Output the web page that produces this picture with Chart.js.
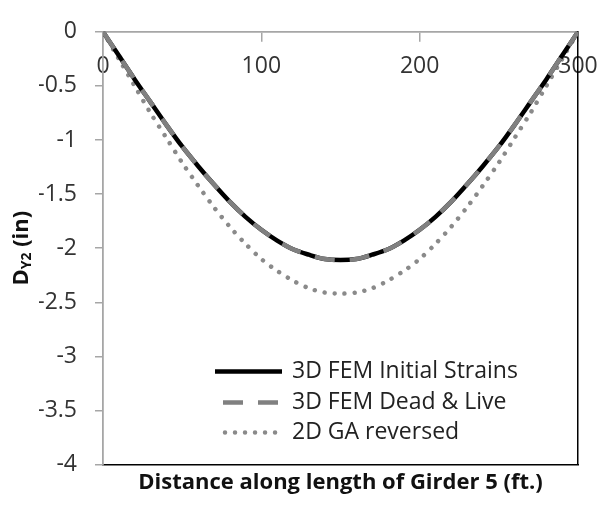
<!DOCTYPE html>
<html><head><meta charset="utf-8">
<script src="https://cdn.jsdelivr.net/npm/chart.js@4"></script>
<style>html,body{margin:0;padding:0;background:#fff}</style>
</head><body>
<canvas id="c" width="602" height="505"></canvas>
<script>
const distances = [0,10,20,30,40,50,60,70,80,90,100,110,120,130,140,150,160,170,180,190,200,210,220,230,240,250,260,270,280,290,300];
const femInitialStrains = [0,-0.22,-0.44,-0.65,-0.86,-1.06,-1.24,-1.41,-1.57,-1.71,-1.83,-1.93,-2.01,-2.06,-2.10,-2.11,-2.10,-2.06,-2.01,-1.93,-1.83,-1.71,-1.57,-1.41,-1.24,-1.06,-0.86,-0.65,-0.44,-0.22,0];
const femDeadLive = [0,-0.22,-0.44,-0.65,-0.86,-1.06,-1.24,-1.41,-1.57,-1.71,-1.83,-1.93,-2.01,-2.06,-2.10,-2.11,-2.10,-2.06,-2.01,-1.93,-1.83,-1.71,-1.57,-1.41,-1.24,-1.06,-0.86,-0.65,-0.44,-0.22,0];
const gaReversed = [0,-0.25,-0.50,-0.75,-0.98,-1.21,-1.42,-1.62,-1.80,-1.96,-2.10,-2.21,-2.30,-2.37,-2.41,-2.42,-2.41,-2.37,-2.30,-2.21,-2.10,-1.96,-1.80,-1.62,-1.42,-1.21,-0.98,-0.75,-0.50,-0.25,0];
const seriesNames = ['3D FEM Initial Strains','3D FEM Dead & Live','2D GA reversed'];
const xTicks = [0,100,200,300];
const xTickLabels = ['0','100','200','300'];
const yTicks = [0,-0.5,-1,-1.5,-2,-2.5,-3,-3.5,-4];
const yTickLabels = ['0','-0.5','-1','-1.5','-2','-2.5','-3','-3.5','-4'];
const xTitle = 'Distance along length of Girder 5 (ft.)';

const FONT = "'Open Sans', sans-serif";
const pts = arr => distances.map((d,i) => ({x: d, y: arr[i]}));

const extras = {
  id: 'extras',
  afterDraw(chart) {
    const {ctx, chartArea: a} = chart;
    ctx.save();
    ctx.translate(22, (a.top + a.bottom) / 2);
    ctx.rotate(-Math.PI / 2);
    const big = "bold 22px " + FONT, small = "bold 14px " + FONT;
    ctx.font = big; const wD = ctx.measureText('D').width; const wR = ctx.measureText(' (in)').width;
    ctx.font = small; const wS = ctx.measureText('Y2').width;
    let x = -(wD + wS + wR) / 2;
    ctx.fillStyle = '#111'; ctx.textBaseline = 'middle';
    ctx.font = big; ctx.fillText('D', x, 0); x += wD;
    ctx.font = small; ctx.fillText('Y2', x, 5); x += wS;
    ctx.font = big; ctx.fillText(' (in)', x, 0);
    ctx.restore();
    const rows = [a.bottom - 93, a.bottom - 62, a.bottom - 32];
    const x0 = a.left + 112, x1 = a.left + 179, tx = a.left + 189;
    chart.data.datasets.forEach((ds, i) => {
      const y = rows[i];
      ctx.save();
      ctx.strokeStyle = ds.borderColor;
      ctx.lineWidth = ds.borderWidth;
      ctx.lineCap = ds.borderCapStyle || 'butt';
      ctx.setLineDash(ds.borderDash || []);
      ctx.lineDashOffset = ds.legendDashOffset || 0;
      ctx.beginPath();
      ctx.moveTo(x0 + (ds.legendInset || 0), y);
      ctx.lineTo(x1, y);
      ctx.stroke();
      ctx.setLineDash([]);
      ctx.fillStyle = '#222';
      ctx.font = "23px " + FONT;
      ctx.textBaseline = 'middle';
      ctx.fillText(ds.label, tx, y);
      ctx.restore();
    });
  }
};

new Chart(document.getElementById('c'), {
  type: 'line',
  data: {
    datasets: [
      {label: seriesNames[0], data: pts(femInitialStrains), borderColor: '#000', borderWidth: 4.5, pointRadius: 0, tension: 0.3, order: 1, borderJoinStyle: 'round'},
      {label: seriesNames[1], data: pts(femDeadLive), borderColor: '#808080', borderWidth: 4.5, borderDash: [20, 15], legendDashOffset: -8, pointRadius: 0, tension: 0.3, order: 0},
      {label: seriesNames[2], data: pts(gaReversed), borderColor: '#8a8a8a', borderWidth: 4.5, borderDash: [0.01, 10], borderCapStyle: 'round', legendInset: 10, pointRadius: 0, tension: 0.3, order: 2}
    ]
  },
  options: {
    responsive: false,
    animation: false,
    layout: {padding: {left: 39, right: 24, top: 15, bottom: 0}},
    plugins: {legend: {display: false}, tooltip: {enabled: false}},
    scales: {
      x: {
        type: 'linear', position: {y: 0}, min: 0, max: 300,
        afterBuildTicks: s => { s.ticks = xTicks.map(v => ({value: v})); },
        afterFit: s => { s.paddingLeft = 0; s.paddingRight = 0; },
        grid: {drawOnChartArea: false, drawTicks: true, tickLength: 9, color: '#a6a6a6', lineWidth: 1.5},
        border: {color: '#a6a6a6', width: 1.8},
        ticks: {padding: 12, color: '#333', font: {family: FONT, size: 23}, maxRotation: 0,
          callback: (v) => xTickLabels[xTicks.indexOf(v)]}
      },
      x2: {
        type: 'linear', position: 'bottom', min: 0, max: 300,
        afterFit: s => { s.paddingLeft = 0; s.paddingRight = 0; },
        grid: {display: false, drawTicks: false},
        border: {color: '#000', width: 1.5},
        ticks: {display: false},
        title: {display: true, text: xTitle, color: '#111', font: {family: FONT, size: 22, weight: 'bold'}, padding: {top: 5, bottom: 9}}
      },
      y: {
        type: 'linear', position: 'left', min: -4, max: 0,
        afterBuildTicks: s => { s.ticks = yTicks.map(v => ({value: v})); },
        afterFit: s => { s.width = 64; },
        grid: {drawOnChartArea: false, drawTicks: true, tickLength: 8, color: '#a6a6a6', lineWidth: 1.5},
        border: {color: '#a6a6a6', width: 1.8},
        ticks: {padding: 18, color: '#333', font: {family: FONT, size: 23},
          callback: (v) => yTickLabels[yTicks.indexOf(v)]}
      },
      y2: {
        type: 'linear', position: 'right', min: -4, max: 0,
        afterFit: s => { s.width = 0; },
        grid: {display: false, drawTicks: false},
        border: {color: '#000', width: 1.5},
        ticks: {display: false}
      }
    }
  },
  plugins: [extras]
});
</script>
</body></html>
